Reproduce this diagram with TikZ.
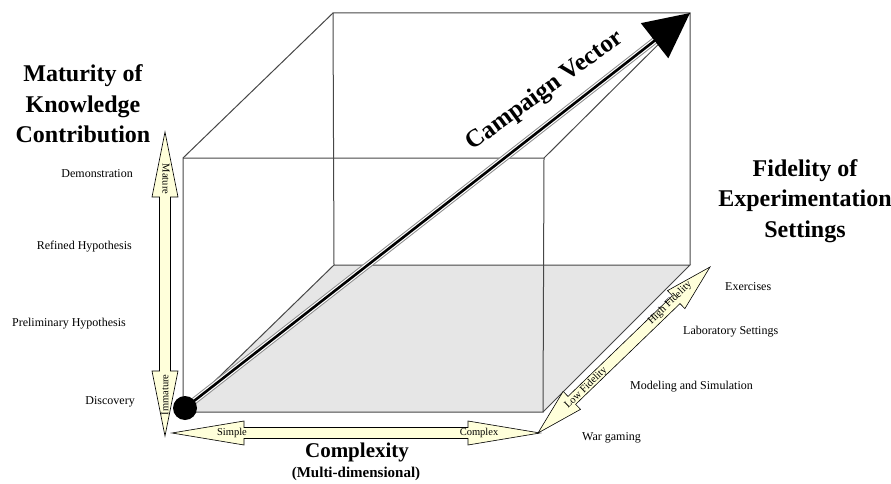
\documentclass[tikz,border=0pt]{standalone}
\usepackage{fontspec}
\setmainfont{Liberation Serif}
\usepackage{xcolor}
\usepackage{tikz}
\usetikzlibrary{calc, arrows.meta}
\definecolor{axisfill}{RGB}{255,255,218}
\definecolor{floorgray}{RGB}{230,230,230}
\newcommand{\fatarrow}[5]{%
  \draw [axisarrow] (#1) -- ($(#1)!#3!(#2)!#4!90:(#2)$) -- ($(#1)!#3!(#2)!#5!90:(#2)$)
    -- ($(#2)!#3!(#1)!#5!-90:(#1)$) -- ($(#2)!#3!(#1)!#4!-90:(#1)$) -- (#2)
    -- ($(#2)!#3!(#1)!#4!90:(#1)$) -- ($(#2)!#3!(#1)!#5!90:(#1)$)
    -- ($(#1)!#3!(#2)!#5!-90:(#2)$) -- ($(#1)!#3!(#2)!#4!-90:(#2)$) -- cycle;}

\begin{document}
\begin{tikzpicture}[x=1pt, y=1pt,
    cube edge/.style={draw=black!72, line width=1pt},
    axisarrow/.style={draw=black, line width=0.6pt, fill=axisfill},
    tag/.style={font=\fontsize{10.5}{11}\selectfont, inner sep=0pt},
    lvl/.style={font=\fontsize{12}{13}\selectfont, inner sep=0pt},
    title/.style={font=\fontsize{24}{30.5}\selectfont\bfseries, align=center, inner sep=0pt} ]
    \useasboundingbox (0,0) rectangle (891,483);
    \coordinate (FBL) at (183,71);
    \coordinate (FBR) at (543,71);
    \coordinate (FTL) at (183,325);
    \coordinate (FTR) at (544,325);
    \coordinate (BBL) at (334,218);
    \coordinate (BBR) at (690,218);
    \coordinate (BTL) at (333,470);
    \coordinate (BTR) at (690,470);
    \fill [floorgray] (FBL) -- (FBR) -- (BBR) -- (BBL) -- cycle;
    \draw [cube edge] (FBL) -- (BBL) -- (BBR) -- (FBR);
    \draw [cube edge] (BBL) -- (BTL) -- (BTR) -- (BBR);
    \draw [cube edge] (FBL) -- (FTL) -- (FTR) -- (FBR) -- cycle;
    \draw [cube edge] (FTL) -- (BTL);
    \draw [cube edge] (FTR) -- (BTR);
    \coordinate (maturetip) at (165,351);
    \coordinate (immaturetip) at (165,47);
    \coordinate (simpletip) at (172,50);
    \coordinate (complextip) at (540,50);
    \coordinate (lowtip) at (538,50);
    \coordinate (hightip) at (710,216);
    \fatarrow{immaturetip}{maturetip}{65pt}{13pt}{5.5pt}
    \fatarrow{simpletip}{complextip}{72pt}{12pt}{5.5pt}
    \fatarrow{lowtip}{hightip}{47pt}{12.5pt}{5.5pt}
    \node at (166,304) [tag, rotate=-90] (mature) {Mature};
    \node at (165,88) [tag, rotate=90] (immature) {Immature};
    \node at (232,50) [tag] (simple) {Simple};
    \node at (479,50) [tag] (complex) {Complex};
    \node at (586,95) [tag, rotate=44] (lowfid) {Low Fidelity};
    \node at (670,180) [tag, rotate=44] (highfid) {High Fidelity};
    \coordinate (origin) at (185,75);
    \coordinate (vectortip) at (690,470);
    \draw [line width=7pt, black!45, shorten >=42pt] (origin) -- (vectortip);
    \draw [line width=5pt, white, shorten >=42pt] (origin) -- (vectortip);
    \draw [line width=2.6pt, -{Triangle[length=45pt, width=44pt]}] (origin) -- (vectortip);
    \node at (origin) [circle, fill=black, minimum size=24pt, inner sep=0pt] (ball) {};
    \node at (545,392) [font=\fontsize{25}{25}\selectfont\bfseries, rotate=36] (campaign) {Campaign Vector};
    \node at (83,379) [title] (maturity) {Maturity of\\Knowledge\\Contribution};
    \node at (805,282) [title] (fidelity) {Fidelity of\\Experimentation\\Settings};
    \node at (357,31) [font=\fontsize{21}{21}\selectfont\bfseries] (complexity) {Complexity};
    \node at (356,9) [font=\fontsize{15}{15}\selectfont\bfseries] (multi) {(Multi-dimensional)};
    \node at (133,309) [lvl, anchor=east] (demo) {Demonstration};
    \node at (132,236) [lvl, anchor=east] (refined) {Refined Hypothesis};
    \node at (126,159) [lvl, anchor=east] (prelim) {Preliminary Hypothesis};
    \node at (135,81) [lvl, anchor=east] (discovery) {Discovery};
    \node at (725,196) [lvl, anchor=west] (exercises) {Exercises};
    \node at (683,151) [lvl, anchor=west] (lab) {Laboratory Settings};
    \node at (630,96) [lvl, anchor=west] (modsim) {Modeling and Simulation};
    \node at (582,45) [lvl, anchor=west] (wargame) {War gaming};
\end{tikzpicture}
\end{document}
